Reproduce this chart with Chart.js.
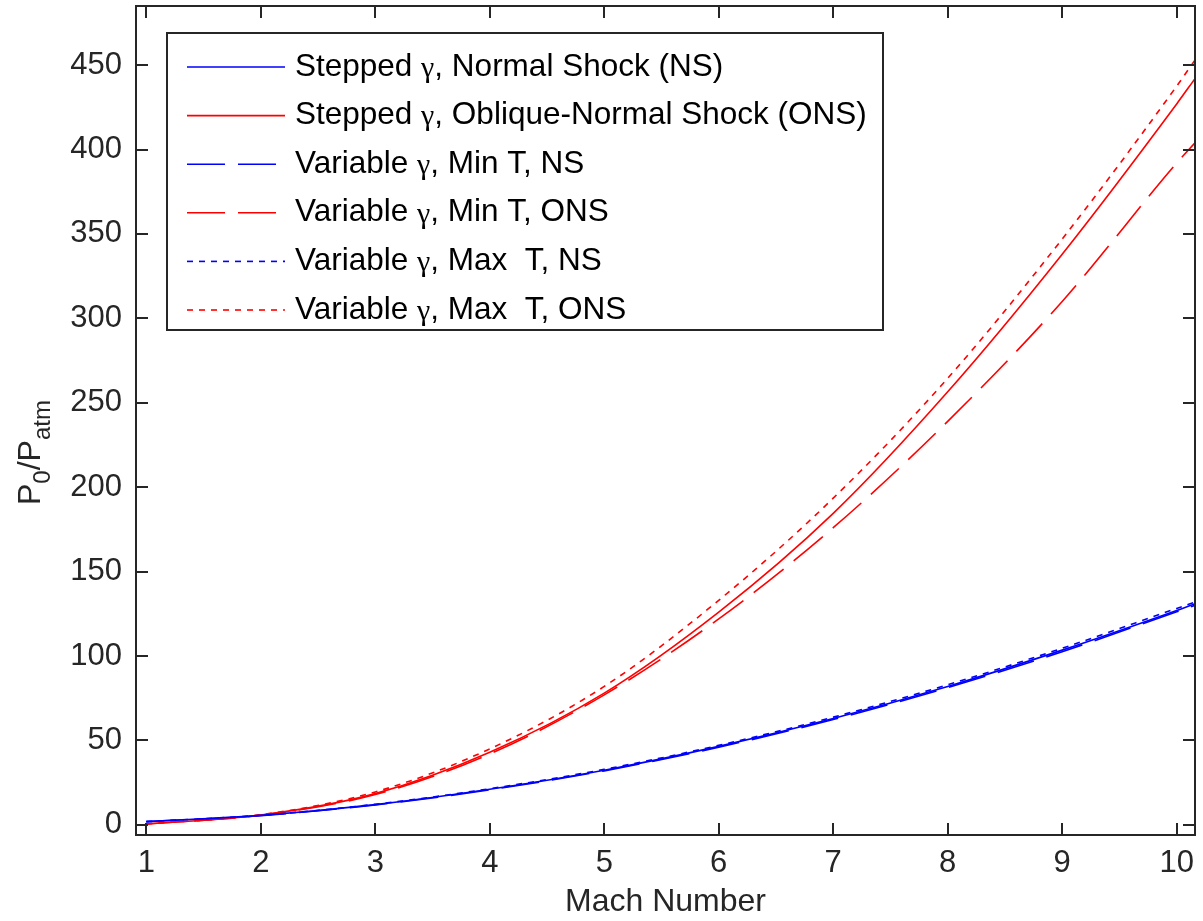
<!DOCTYPE html>
<html>
<head>
<meta charset="utf-8">
<title>P0/Patm vs Mach Number</title>
<script src="https://cdn.jsdelivr.net/npm/chart.js@4.4.1/dist/chart.umd.min.js"></script>
<style>
    html, body { margin: 0; padding: 0; background: #ffffff; }
    #wrap { width: 1203px; height: 921px; }
</style>
</head>
<body>
<div id="wrap"><canvas id="chart" width="1203" height="921"></canvas></div>
<script>
const machPoints = [1, 2, 3, 4, 5, 6, 7, 8, 9, 10, 10.16];

// Normal shock (blue) series
const steppedNS = [1.9, 5.6, 12.0, 21.1, 32.4, 46.5, 63.0, 82.0, 103.5, 127.0, 131.0];
const minTNS    = [1.9, 5.5, 11.8, 20.8, 32.0, 46.0, 62.4, 81.3, 102.6, 126.2, 130.0];
const maxTNS    = [1.9, 5.7, 12.2, 21.4, 32.9, 47.1, 63.8, 83.0, 104.6, 128.2, 132.0];

// Oblique-normal shock (red) series
const steppedONS = [0.5, 5.8, 18.5, 43.0, 78.0, 126.0, 184.5, 256.5, 338.0, 427.0, 442.0];
const minTONS    = [0.5, 5.7, 18.0, 42.0, 77.0, 122.0, 176.0, 239.0, 310.0, 392.0, 404.0];
const maxTONS    = [0.5, 6.0, 19.5, 45.0, 82.0, 133.0, 193.5, 264.5, 347.0, 437.5, 453.0];

const seriesLabels = [
    ['Stepped ', 'γ', ', Normal Shock (NS)'],
    ['Stepped ', 'γ', ', Oblique-Normal Shock (ONS)'],
    ['Variable ', 'γ', ', Min T, NS'],
    ['Variable ', 'γ', ', Min T, ONS'],
    ['Variable ', 'γ', ', Max  T, NS'],
    ['Variable ', 'γ', ', Max  T, ONS']
];

const FONT = '"Liberation Sans", Arial, Helvetica, sans-serif';
const INK = '#262626';
const DASHED = [38, 13];
const DOTTED = [6, 6];

function toPoints(values) {
    return machPoints.map((m, i) => ({ x: m, y: values[i] }));
}

function lineSet(label, values, color, dash) {
    return {
        label: label,
        data: toPoints(values),
        borderColor: color,
        backgroundColor: color,
        borderWidth: 1.6,
        borderDash: dash,
        pointRadius: 0,
        fill: false,
        cubicInterpolationMode: 'monotone'
    };
}

// Frame, inward ticks, y title and the boxed legend
const framePlugin = {
    id: 'frame',
    afterDatasetsDraw(chart) {
        const ctx = chart.ctx;
        const area = chart.chartArea;
        const xs = chart.scales.x;
        const ys = chart.scales.y;
        const tick = 12;

        ctx.save();
        ctx.strokeStyle = INK;
        ctx.lineWidth = 2;
        ctx.setLineDash([]);
        ctx.strokeRect(area.left, area.top, area.right - area.left, area.bottom - area.top);

        ctx.beginPath();
        xs.ticks.forEach(t => {
            const px = Math.round(xs.getPixelForValue(t.value));
            ctx.moveTo(px, area.bottom);
            ctx.lineTo(px, area.bottom - tick);
            ctx.moveTo(px, area.top);
            ctx.lineTo(px, area.top + tick);
        });
        ys.ticks.forEach(t => {
            const py = Math.round(ys.getPixelForValue(t.value));
            ctx.moveTo(area.left, py);
            ctx.lineTo(area.left + tick, py);
            ctx.moveTo(area.right, py);
            ctx.lineTo(area.right - tick, py);
        });
        ctx.stroke();

        // y title: P0/Patm with subscripts, rotated
        ctx.translate(40, 505);
        ctx.rotate(-Math.PI / 2);
        ctx.fillStyle = INK;
        ctx.textBaseline = 'alphabetic';
        let cx = 0;
        const bigFont = '32px ' + FONT;
        const subFont = '24px ' + FONT;
        const parts = [['P', bigFont, 0], ['0', subFont, 10], ['/P', bigFont, 0], ['atm', subFont, 10]];
        parts.forEach(p => {
            ctx.font = p[1];
            ctx.fillText(p[0], cx, p[2]);
            cx += ctx.measureText(p[0]).width;
        });
        ctx.restore();

        // legend box
        ctx.save();
        const box = { left: 167, top: 33, right: 883, bottom: 330 };
        ctx.fillStyle = '#ffffff';
        ctx.fillRect(box.left, box.top, box.right - box.left, box.bottom - box.top);
        ctx.strokeStyle = INK;
        ctx.lineWidth = 2;
        ctx.strokeRect(box.left, box.top, box.right - box.left, box.bottom - box.top);

        chart.data.datasets.forEach((ds, i) => {
            const rowY = 67 + i * 48.6;
            ctx.strokeStyle = ds.borderColor;
            ctx.lineWidth = 1.6;
            ctx.setLineDash(ds.borderDash || []);
            ctx.beginPath();
            ctx.moveTo(187, rowY);
            ctx.lineTo(285, rowY);
            ctx.stroke();

            ctx.setLineDash([]);
            ctx.fillStyle = '#000000';
            ctx.textBaseline = 'middle';
            let tx = 295;
            const pieces = seriesLabels[i];
            pieces.forEach((piece, k) => {
                ctx.font = (k === 1 ? '30px "Liberation Serif", serif' : '31.5px ' + FONT);
                ctx.fillText(piece, tx, rowY + (k === 1 ? 2 : 0));
                tx += ctx.measureText(piece).width;
            });
        });
        ctx.restore();
    }
};

const chart = new Chart(document.getElementById('chart'), {
    type: 'line',
    data: {
        datasets: [
            lineSet('Stepped γ, Normal Shock (NS)', steppedNS, '#0000ff', []),
            lineSet('Stepped γ, Oblique-Normal Shock (ONS)', steppedONS, '#ff0000', []),
            lineSet('Variable γ, Min T, NS', minTNS, '#0000ff', DASHED),
            lineSet('Variable γ, Min T, ONS', minTONS, '#ff0000', DASHED),
            lineSet('Variable γ, Max T, NS', maxTNS, '#0000ff', DOTTED),
            lineSet('Variable γ, Max T, ONS', maxTONS, '#ff0000', DOTTED)
        ]
    },
    options: {
        responsive: false,
        devicePixelRatio: 1,
        animation: false,
        layout: { padding: { top: 6, right: 8, left: 0, bottom: 0 } },
        plugins: {
            legend: { display: false },
            tooltip: { enabled: false }
        },
        scales: {
            x: {
                type: 'linear',
                min: 0.91,
                max: 10.16,
                grid: { display: false, drawTicks: false },
                border: { display: false },
                ticks: {
                    stepSize: 1,
                    includeBounds: false,
                    padding: 10,
                    maxRotation: 0,
                    color: INK,
                    font: { family: FONT, size: 31 }
                },
                title: {
                    display: true,
                    text: 'Mach Number',
                    color: INK,
                    font: { family: FONT, size: 32 },
                    padding: { top: 0, bottom: 0 }
                },
                afterFit(scale) {
                    scale.height = 86;
                    scale.paddingLeft = 0;
                    scale.paddingRight = 0;
                }
            },
            y: {
                type: 'linear',
                min: -6,
                max: 485,
                grid: { display: false, drawTicks: false },
                border: { display: false },
                ticks: {
                    stepSize: 50,
                    includeBounds: false,
                    padding: 14,
                    color: INK,
                    font: { family: FONT, size: 31 }
                },
                afterFit(scale) {
                    scale.width = 136;
                    scale.paddingTop = 0;
                    scale.paddingBottom = 0;
                }
            }
        }
    },
    plugins: [framePlugin]
});
</script>
</body>
</html>
